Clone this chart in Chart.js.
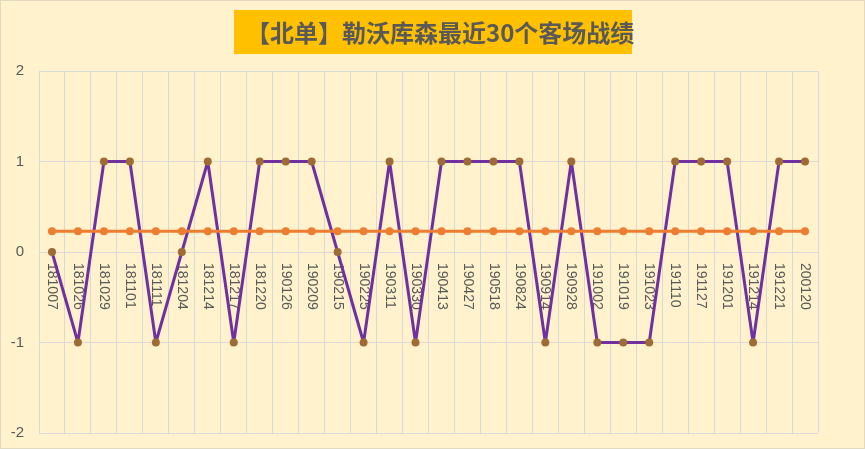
<!DOCTYPE html>
<html>
<head>
<meta charset="UTF-8">
<title>勒沃库森最近30个客场战绩</title>
<script src="https://cdn.jsdelivr.net/npm/chart.js@4.4.1/dist/chart.umd.min.js"></script>
<style>
	body { margin: 0; background: #FFF2CC; }
	#wrap {
		position: relative; width: 865px; height: 449px;
		box-sizing: border-box; border: 1px solid #E2DAC0; background: #FFF2CC;
	}
	#title {
		position: absolute; left: 233px; top: 9px; width: 398px; height: 44px;
		background: #FFC000; color: #595959; font-family: "Noto Sans CJK SC";
		font-weight: bold; font-size: 24px; line-height: 44px; text-align: center;
		white-space: nowrap; padding-left: 12px; box-sizing: border-box; z-index: 2;
	}
	#myChart { position: absolute; left: 0; top: 0; }
</style>
</head>
<body>
<div id="wrap">
	<div id="title">【北单】勒沃库森最近30个客场战绩</div>
	<canvas id="myChart" width="863" height="447"></canvas>
</div>
<script>
var matchDates = ['181007','181026','181029','181101','181111','181204','181214','181217','181220','190126',
	'190209','190215','190225','190311','190330','190413','190427','190518','190824','190914',
	'190928','191002','191019','191023','191110','191127','191201','191214','191221','200120'];

// 1 = 胜, 0 = 平, -1 = 负
var results = [0, -1, 1, 1, -1, 0, 1, -1, 1, 1,
	1, 0, -1, 1, -1, 1, 1, 1, 1, -1,
	1, -1, -1, -1, 1, 1, 1, -1, 1, 1];

var average = [0.23, 0.23, 0.23, 0.23, 0.23, 0.23, 0.23, 0.23, 0.23, 0.23,
	0.23, 0.23, 0.23, 0.23, 0.23, 0.23, 0.23, 0.23, 0.23, 0.23,
	0.23, 0.23, 0.23, 0.23, 0.23, 0.23, 0.23, 0.23, 0.23, 0.23];

var yTicks = [-2, -1, 0, 1, 2];

// date labels hang under the zero line, turned clockwise like the excel sheet
var dateLabels = {
	id: 'dateLabels',
	beforeDatasetsDraw: function(chart) {
		var ctx = chart.ctx;
		var xs = chart.scales.x, ys = chart.scales.y;
		var y0 = ys.getPixelForValue(0) + 11;
		ctx.save();
		ctx.fillStyle = '#595959';
		ctx.font = '14px "Liberation Sans"';
		ctx.textAlign = 'left';
		ctx.textBaseline = 'middle';
		matchDates.forEach(function(d, i) {
			ctx.save();
			ctx.translate(xs.getPixelForValue(i), y0);
			ctx.rotate(Math.PI / 2);
			ctx.fillText(d, 0, 0);
			ctx.restore();
		});
		ctx.restore();
	}
};

var ctx = document.getElementById('myChart').getContext('2d');
var chart = new Chart(ctx, {
	type: 'line',
	data: {
		labels: matchDates,
		datasets: [{
			label: '战绩',
			data: results,
			order: 2,
			borderColor: '#7030A0',
			borderWidth: 3,
			borderJoinStyle: 'round',
			pointRadius: 4,
			pointBorderWidth: 0,
			pointBackgroundColor: '#9E6B35',
			lineTension: 0
		}, {
			label: '平均',
			data: average,
			order: 1,
			borderColor: '#ED7D31',
			borderWidth: 3,
			borderJoinStyle: 'round',
			pointRadius: 4,
			pointBorderWidth: 0,
			pointBackgroundColor: '#ED7D31',
			lineTension: 0
		}]
	},
	options: {
		responsive: false,
		animation: false,
		layout: { padding: { top: 70, right: 46, bottom: 15, left: 0 } },
		plugins: { legend: { display: false }, tooltip: { enabled: false } },
		scales: {
			x: {
				position: 'bottom',
				offset: true,
				afterFit: function(s) { s.height = 0; },
				grid: { offset: true, color: '#D9D9D9', drawTicks: false },
				border: { display: false },
				ticks: { display: false }
			},
			y: {
				min: -2,
				max: 2,
				afterFit: function(s) {
					s.width = 38;
					s.paddingTop = 0;
					s.paddingBottom = 0;
				},
				afterBuildTicks: function(s) { s.ticks = yTicks.map(function(v) { return { value: v }; }); },
				grid: { color: '#D9D9D9', drawTicks: false },
				border: { color: '#D9D9D9' },
				ticks: {
					padding: 15,
					color: '#595959',
					font: { family: 'Liberation Sans', size: 15 }
				}
			}
		}
	},
	plugins: [dateLabels]
});
</script>
</body>
</html>
